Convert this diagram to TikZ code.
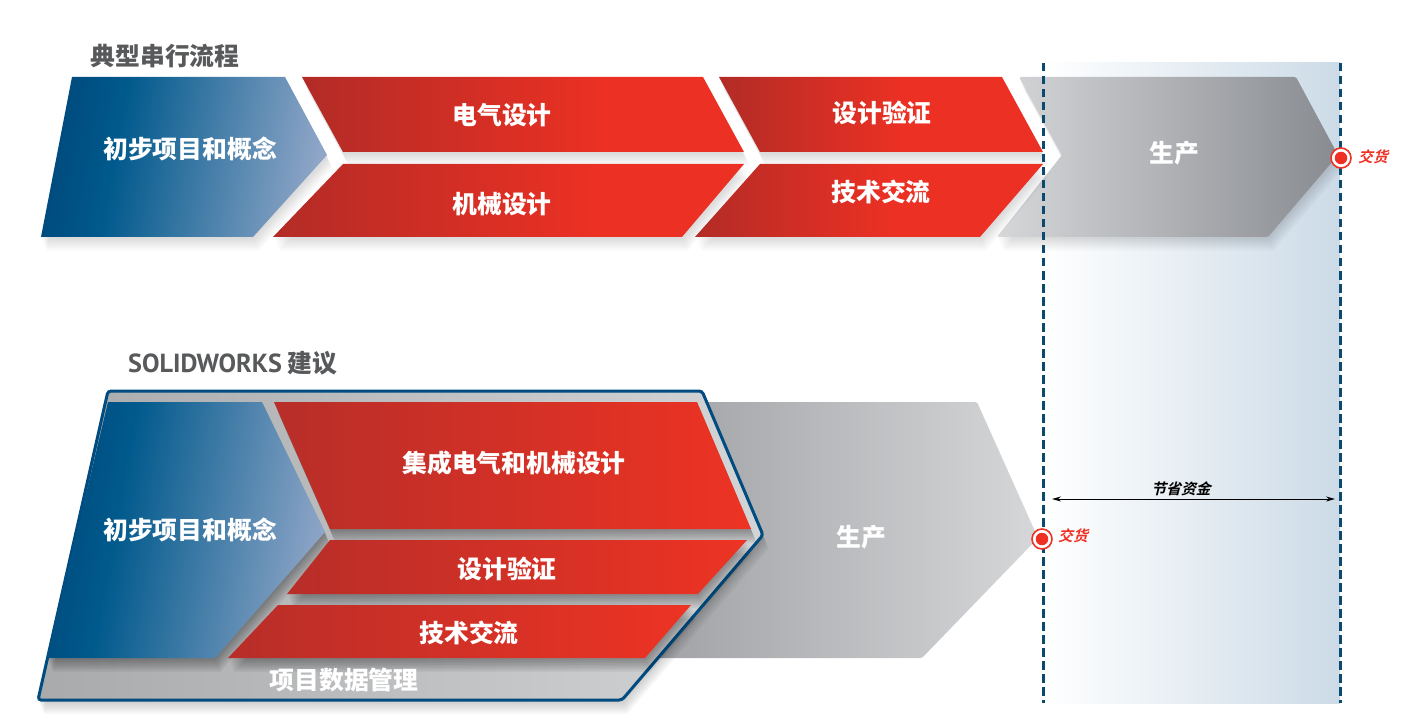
\documentclass[tikz,border=0pt]{standalone}
\usepackage{fontspec}
\usetikzlibrary{arrows.meta}
\setmainfont{Noto Sans CJK SC}
\newfontfamily\slantfont[FakeSlant=0.25]{Noto Sans CJK SC Bold}
\newfontfamily\latinfont[Scale=1.055]{PT Sans}
\definecolor{titlegray}{HTML}{58595B}
\definecolor{boxblue}{HTML}{004B80}
\definecolor{dashblue}{HTML}{0B4A6E}
\definecolor{markred}{HTML}{EE3124}
\definecolor{bandblue}{HTML}{CCDBE7}
\definecolor{prodlight}{HTML}{D6D7D9}
\definecolor{proddark}{HTML}{888B90}
\definecolor{prodmid}{HTML}{9FA0A3}
\definecolor{boxdark}{HTML}{A9AAAC}
\definecolor{boxlight}{HTML}{D3D4D6}
\pgfdeclarehorizontalshading{blueflow}{100bp}{rgb(0bp)=(0,.29,.49); rgb(25bp)=(0,.29,.49); rgb(37bp)=(0,.35,.55); rgb(75bp)=(.56,.65,.78); rgb(100bp)=(.56,.65,.78)}
\pgfdeclarehorizontalshading{redlong}{100bp}{rgb(0bp)=(.70,.17,.15); rgb(25bp)=(.70,.17,.15); rgb(60bp)=(.93,.19,.14); rgb(100bp)=(.93,.19,.14)}
\pgfdeclarehorizontalshading{redshort}{100bp}{rgb(0bp)=(.70,.17,.15); rgb(25bp)=(.70,.17,.15); rgb(54bp)=(.93,.19,.14); rgb(100bp)=(.93,.19,.14)}
\pgfdeclarehorizontalshading{redfull}{100bp}{rgb(0bp)=(.72,.18,.16); rgb(25bp)=(.72,.18,.16); rgb(75bp)=(.93,.20,.14); rgb(100bp)=(.93,.20,.14)}
% shadow: copies of the shape pushed down, one over the other
\newcommand{\flowshape}[3]{%
\foreach \w in {2,3.5,...,14}{\fill [black,opacity=#1,shift={(.4*\w,\w)}] #3;}
\shade [#2] #3;}
\tikzset{
flowlabel/.style={text=white,font=\bfseries\fontsize{24.8}{26}\selectfont,inner sep=0pt},
titlelabel/.style={text=titlegray,font=\bfseries\fontsize{24.8}{26}\selectfont,inner sep=0pt},
marklabel/.style={text=markred,font=\slantfont\fontsize{14.8}{16}\selectfont,inner sep=0pt},
markring/.style={circle,draw=markred,fill=white,line width=1.6pt,minimum size=20pt,inner sep=0pt},
markdot/.style={circle,fill=markred,minimum size=12.5pt,inner sep=0pt},
limitline/.style={draw=dashblue,line width=3pt,dash pattern=on 8.5pt off 4.5pt}
}
\begin{document}
\begin{tikzpicture}[x=1pt,y=-1pt]
\useasboundingbox (0,0) rectangle (1414,722);
% saving band
\shade [left color=white,right color=bandblue] (1043,63) rectangle (1340,703);
% serial flow
\flowshape{.015}{left color=prodlight,right color=proddark,rounded corners=1.5pt}{(1019,77) -- (1296,77) -- (1338,155) -- (1268,237) -- (997,237) -- (1062,155) -- cycle}
\flowshape{.015}{shading=blueflow,shading angle=-10}{(72,77) -- (285,77) -- (327,155) -- (253,237) -- (41,237) -- cycle}
\flowshape{.015}{shading=redlong}{(302,77) -- (703,77) -- (744,152) -- (343,152) -- cycle}
\flowshape{.015}{shading=redlong}{(343,164) -- (744,164) -- (682,237) -- (273,237) -- cycle}
\flowshape{.015}{shading=redshort}{(719,77) -- (1002,77) -- (1043,152) -- (760,152) -- cycle}
\flowshape{.015}{shading=redshort}{(760,164) -- (1043,164) -- (980,237) -- (695,237) -- cycle}
% recommended flow
\shade [left color=prodmid,right color=prodlight,rounded corners=1.5pt] (700,402) -- (977,402) -- (1038,538) -- (922,658) -- (640,658) -- cycle;
\flowshape{.025}{left color=boxdark,right color=boxlight,draw=boxblue,line width=3pt,rounded corners=3pt}{(108,391) -- (702,391) -- (763,535) -- (622,700) -- (38,700) -- cycle}
\flowshape{.04}{shading=blueflow,shading angle=-10}{(108,402) -- (262,402) -- (325,532) -- (215,658) -- (47,658) -- cycle}
\flowshape{.04}{shading=redfull}{(274,402) -- (697,402) -- (751,529) -- (330,529) -- cycle}
\flowshape{.04}{shading=redfull}{(330,540) -- (747,540) -- (698,594) -- (287,594) -- cycle}
\flowshape{.04}{shading=redfull}{(278,605) -- (691,605) -- (645,658) -- (228,658) -- cycle}
% limits
\coordinate (limittopa) at (1043,63);
\coordinate (limitbota) at (1043,703);
\coordinate (limittopb) at (1340,63);
\coordinate (limitbotb) at (1340,703);
\draw [limitline] (limittopa) -- (limitbota);
\draw [limitline] (limittopb) -- (limitbotb);
\coordinate (savingl) at (1052,499);
\coordinate (savingr) at (1335,499);
\draw [{Stealth[length=9pt,width=5pt]}-{Stealth[length=9pt,width=5pt]},line width=0.9pt] (savingl) -- (savingr);
% labels
\node [titlelabel] (serialtitle) at (165,56) {典型串行流程};
\node [titlelabel,anchor=west] (swtitle) at (128,363) {{\latinfont SOLIDWORKS} 建议};
\node [flowlabel] (conceptup) at (190,149) {初步项目和概念};
\node [flowlabel] (elecup) at (502,115) {电气设计};
\node [flowlabel] (mechup) at (502,204) {机械设计};
\node [flowlabel] (checkup) at (882,113) {设计验证};
\node [flowlabel] (talkup) at (881,192) {技术交流};
\node [flowlabel] (produp) at (1174,153) {生产};
\node [flowlabel] (conceptlow) at (190,530) {初步项目和概念};
\node [flowlabel] (bothlow) at (514,463) {集成电气和机械设计};
\node [flowlabel] (checklow) at (507,569) {设计验证};
\node [flowlabel] (talklow) at (469,633) {技术交流};
\node [flowlabel] (prodlow) at (861,537) {生产};
\node [flowlabel] (pdmlow) at (344,680) {项目数据管理};
\node [inner sep=0pt,text=black,font=\slantfont\fontsize{14.8}{16}\selectfont] (savinglabel) at (1181,489) {节省资金};
% delivery marks
\node [markring] (ringup) at (1341,158) {};
\node [markdot] (dotup) at (1341,158) {};
\node [marklabel] (markup) at (1373,157) {交货};
\node [markring] (ringlow) at (1042,539) {};
\node [markdot] (dotlow) at (1042,539) {};
\node [marklabel] (marklow) at (1073,536) {交货};
\end{tikzpicture}
\end{document}
